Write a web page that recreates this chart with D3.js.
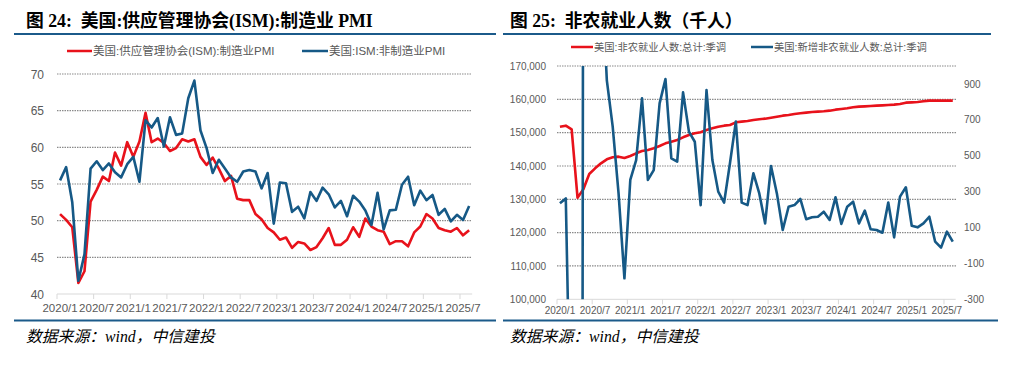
<!DOCTYPE html>
<html>
<head>
<meta charset="utf-8">
<script src="https://cdn.jsdelivr.net/npm/d3@7"></script>
<style>
  body { margin: 0; background: #fff; }
  svg { display: block; }
</style>
</head>
<body>
<svg id="chart" width="1031" height="365"></svg>
<script>
// months 2020/1 .. 2025/8
const months = [];
for (let y = 2020; y <= 2025; y++) {
  for (let m = 1; m <= 12; m++) {
    if (y < 2025 || m <= 8) months.push(y + '/' + m);
  }
}

const mfgPmi = [
  50.9, 50.1, 49.1, 41.5, 43.1, 52.6, 54.2, 56.0, 55.4, 59.3, 57.5, 60.7,
  58.7, 60.8, 64.7, 60.7, 61.2, 60.6, 59.5, 59.9, 61.1, 60.8, 61.1, 58.7,
  57.6, 58.6, 57.1, 55.4, 56.1, 53.0, 52.8, 52.8, 50.9, 50.2, 49.0, 48.4,
  47.4, 47.7, 46.3, 47.1, 46.9, 46.0, 46.4, 47.6, 49.0, 46.7, 46.7, 47.4,
  49.1, 47.8, 50.3, 49.2, 48.7, 48.5, 46.8, 47.2, 47.2, 46.5, 48.4, 49.2,
  50.9, 50.3, 49.0, 48.7, 48.5, 49.0, 48.0, 48.7
];
const nonMfgPmi = [
  55.5, 57.3, 52.5, 41.8, 45.4, 57.1, 58.1, 56.9, 57.8, 56.6, 55.9, 57.7,
  58.7, 55.3, 63.7, 62.7, 64.0, 60.1, 64.1, 61.7, 61.9, 66.7, 69.1, 62.3,
  59.9, 56.5, 58.3, 57.1, 55.9, 55.3, 56.7, 56.9, 56.7, 54.4, 56.5, 49.6,
  55.2, 55.1, 51.2, 51.9, 50.3, 53.9, 52.7, 54.5, 53.6, 51.8, 52.7, 50.6,
  53.4, 52.6, 51.4, 49.4, 53.8, 48.8, 51.4, 51.5, 54.9, 56.0, 52.1, 54.1,
  52.8, 53.5, 50.8, 51.6, 49.9, 50.8, 50.1, 52.0
];
const payrolls = [
  151800, 152100, 151000, 130500, 133000, 137600, 139300, 140800, 142000, 142600, 142800, 142400,
  143000, 143800, 144500, 144800, 145300, 146000, 146800, 147300, 147800, 148600, 149300, 149800,
  150100, 150800, 151300, 151800, 152100, 152300, 153100, 153300, 153500, 153800, 154000, 154200,
  154500, 154800, 155100, 155300, 155600, 155800, 156000, 156200, 156300, 156400, 156600, 156900,
  157100, 157300, 157600, 157800, 157900, 158000, 158100, 158200, 158300, 158400, 158600, 159000,
  159100, 159200, 159400, 159600, 159600, 159600, 159600, 159600
];
const payrollChange = [
  235, 262, -1373, -20493, 2833, 4846, 1726, 1583, 920, 662, 290, -183,
  365, 476, 820, 365, 420, 792, 927, 485, 467, 853, 634, 578,
  225, 866, 476, 300, 239, 458, 690, 239, 225, 402, 290, 123,
  443, 290, 86, 216, 225, 259, 146, 157, 160, 188, 142, 268,
  120, 216, 244, 123, 194, 90, 86, 71, 239, 45, 272, 324,
  110, 101, 123, 160, 21, -12, 77, 21
];

const pmiTicks = [40, 45, 50, 55, 60, 65, 70];
const payrollTicks = [100000, 110000, 120000, 130000, 140000, 150000, 160000, 170000];
const changeTicks = [-300, -100, 100, 300, 500, 700, 900];

const RED = '#e8121b';
const BLUE = '#165986';
const RULE = '#1b5a8a';
const GRID = '#8a8a8a';
const TEXT = '#595959';
const CJK = '"Liberation Sans", "Noto Sans CJK SC", sans-serif';

const svg = d3.select('#chart');

drawFrame(14, 496, 26, '图 24:  美国:供应管理协会(ISM):制造业 PMI', 496);
drawFrame(503, 991, 510, '图 25:  非农就业人数（千人）', 998);
drawPmi();
drawPayrolls();

function drawFrame(x0, x1, tx, title, x1b) {
  svg.append('text')
    .attr('x', tx).attr('y', 26.5)
    .attr('font-family', '"Liberation Serif", "Noto Sans CJK SC", serif')
    .attr('font-weight', 'bold')
    .attr('font-size', 17.8)
    .attr('fill', '#000')
    .attr('xml:space', 'preserve')
    .text(title);
  svg.append('line')
    .attr('x1', x0).attr('x2', x1).attr('y1', 34).attr('y2', 34)
    .attr('stroke', RULE).attr('stroke-width', 2.2);
  svg.append('line')
    .attr('x1', x0).attr('x2', x1b).attr('y1', 320.5).attr('y2', 320.5)
    .attr('stroke', RULE).attr('stroke-width', 2.2);
  svg.append('text')
    .attr('x', tx).attr('y', 342)
    .attr('font-family', '"Liberation Serif", "Noto Sans CJK SC", serif')
    .attr('font-style', 'italic')
    .attr('font-size', 15.8)
    .attr('fill', '#000')
    .text('数据来源：wind，中信建投');
}

function drawLegend(items, y, fontSize) {
  items.forEach(it => {
    svg.append('line')
      .attr('x1', it.x).attr('x2', it.x + it.len).attr('y1', y).attr('y2', y)
      .attr('stroke', it.color).attr('stroke-width', 2.5);
    svg.append('text')
      .attr('x', it.x + it.len + 1).attr('y', y + fontSize * 0.36)
      .attr('font-family', CJK)
      .attr('font-size', fontSize)
      .attr('fill', TEXT)
      .text(it.label);
  });
}

function drawXAxis(g, x, yPos, fontSize, labelY) {
  g.append('line')
    .attr('x1', x.range()[0]).attr('x2', x.range()[1])
    .attr('y1', yPos).attr('y2', yPos)
    .attr('stroke', '#d9d9d9').attr('stroke-width', 1);
  months.forEach((m, i) => {
    if (i % 6 !== 0) return;
    g.append('line')
      .attr('x1', x(m)).attr('x2', x(m))
      .attr('y1', yPos).attr('y2', yPos + 5)
      .attr('stroke', '#d9d9d9');
    g.append('text')
      .attr('x', x(m) + x.bandwidth() / 2).attr('y', labelY)
      .attr('text-anchor', 'middle')
      .attr('font-family', 'Liberation Sans, Arial, sans-serif')
      .attr('font-size', fontSize)
      .attr('fill', TEXT)
      .text(m);
  });
}

function drawGrid(g, y, ticks, x0, x1) {
  ticks.slice(1).forEach(t => {
    g.append('line')
      .attr('x1', x0).attr('x2', x1)
      .attr('y1', y(t)).attr('y2', y(t))
      .attr('stroke', GRID).attr('stroke-width', 1.2)
      .attr('stroke-dasharray', '1.5,1');
  });
}

function linePath(g, data, x, y, color) {
  const line = d3.line()
    .x((d, i) => x(months[i]) + x.bandwidth() / 2)
    .y(d => y(d));
  g.append('path')
    .datum(data)
    .attr('d', line)
    .attr('fill', 'none')
    .attr('stroke', color)
    .attr('stroke-width', 2.6)
    .attr('stroke-linejoin', 'round');
}

function drawPmi() {
  const g = svg.append('g');
  const x = d3.scaleBand().domain(months).range([57, 472.2]);
  const y = d3.scaleLinear().domain([40, 70]).range([294, 74]);
  drawGrid(g, y, pmiTicks, 57, 472);
  drawXAxis(g, x, 294, 11.5, 312);
  pmiTicks.forEach(t => {
    g.append('text')
      .attr('x', 44).attr('y', y(t) + 4.5)
      .attr('text-anchor', 'end')
      .attr('font-family', 'Liberation Sans, Arial, sans-serif')
      .attr('font-size', 12)
      .attr('fill', TEXT)
      .text(t);
  });
  linePath(g, mfgPmi, x, y, RED);
  linePath(g, nonMfgPmi, x, y, BLUE);
  drawLegend([
    {x: 67, len: 25, color: RED, label: '美国:供应管理协会(ISM):制造业PMI'},
    {x: 302, len: 26, color: BLUE, label: '美国:ISM:非制造业PMI'}
  ], 51, 11.5);
}

function drawPayrolls() {
  const g = svg.append('g');
  const x = d3.scaleBand().domain(months).range([557, 955.7]);
  const yL = d3.scaleLinear().domain([100000, 170000]).range([299.3, 66]);
  const yR = d3.scaleLinear().domain([-300, 1000]).range([299.3, 66]);
  drawGrid(g, yL, payrollTicks, 557, 957);
  drawXAxis(g, x, 299.3, 10, 314);
  const fmt = d3.format(',');
  payrollTicks.forEach(t => {
    g.append('text')
      .attr('x', 546).attr('y', yL(t) + 3.6)
      .attr('text-anchor', 'end')
      .attr('font-family', 'Liberation Sans, Arial, sans-serif')
      .attr('font-size', 10)
      .attr('fill', TEXT)
      .text(fmt(t));
  });
  changeTicks.forEach(t => {
    g.append('text')
      .attr('x', 964).attr('y', yR(t) + 3.6)
      .attr('font-family', 'Liberation Sans, Arial, sans-serif')
      .attr('font-size', 10)
      .attr('fill', TEXT)
      .text(t);
  });
  svg.append('clipPath').attr('id', 'clipR')
    .append('rect').attr('x', 550).attr('y', 66).attr('width', 410).attr('height', 233.3);
  const pg = g.append('g').attr('clip-path', 'url(#clipR)');
  linePath(pg, payrolls, x, yL, RED);
  linePath(pg, payrollChange, x, yR, BLUE);
  drawLegend([
    {x: 571, len: 22, color: RED, label: '美国:非农就业人数:总计:季调'},
    {x: 751, len: 22, color: BLUE, label: '美国:新增非农就业人数:总计:季调'}
  ], 47, 10.3);
}
</script>
</body>
</html>
